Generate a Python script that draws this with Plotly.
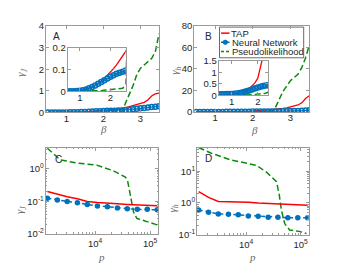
import plotly.graph_objects as go

W, H = 342, 269
def fx(px): return px / W
def fy(py): return 1 - py / H

# ---------------- data ----------------
beta = [0.5, 0.6, 0.7, 0.8, 0.9, 1.0, 1.1, 1.2, 1.3, 1.4, 1.5, 1.6, 1.7, 1.8, 1.9, 2.0,
        2.1, 2.2, 2.3, 2.4, 2.5, 2.6, 2.7, 2.8, 2.9, 3.0, 3.1, 3.2, 3.3, 3.4, 3.5]

gJ_tap = [0.000, 0.000, 0.001, 0.001, 0.002, 0.003, 0.005, 0.008, 0.013, 0.019, 0.027,
          0.036, 0.047, 0.059, 0.073, 0.088, 0.104, 0.121, 0.140, 0.160, 0.182,
          0.22, 0.27, 0.32, 0.37, 0.42, 0.47, 0.58, 0.76, 0.86, 0.90]
gJ_nn = [0.000, 0.000, 0.000, 0.001, 0.002, 0.003, 0.005, 0.009, 0.014, 0.020, 0.027,
         0.035, 0.043, 0.051, 0.059, 0.067, 0.074, 0.080, 0.085, 0.090, 0.095,
         0.11, 0.13, 0.15, 0.17, 0.19, 0.21, 0.23, 0.25, 0.27, 0.29]
gJ_pl = [0.000, 0.000, 0.000, 0.000, 0.000, 0.000, 0.000, 0.000, 0.000, 0.001, 0.001,
         0.002, 0.003, 0.005, 0.007, 0.009, 0.010, 0.011, 0.012, 0.014, 0.030,
         0.45, 0.85, 1.25, 1.75, 2.05, 2.20, 2.35, 2.50, 2.80, 3.65]

gh_tap = [0.02, 0.02, 0.03, 0.03, 0.04, 0.05, 0.06, 0.08, 0.10, 0.13, 0.18,
          0.25, 0.34, 0.44, 0.57, 0.76, 1.02, 1.36, 1.75, 2.0, 2.2,
          2.5, 2.9, 3.3, 3.9, 4.6, 5.5, 6.5, 8.5, 12.5, 15.0]
gh_nn = [0.05, 0.05, 0.05, 0.06, 0.06, 0.07, 0.08, 0.09, 0.11, 0.13, 0.16,
         0.19, 0.23, 0.27, 0.31, 0.35, 0.38, 0.41, 0.43, 0.45, 0.47,
         0.5, 0.55, 0.6, 0.7, 0.8, 0.9, 1.0, 1.15, 1.3, 1.5]
gh_pl = [0.0, 0.0, 0.0, 0.0, 0.0, 0.0, 0.0, 0.0, 0.0, 0.0, 0.005,
         0.01, 0.02, 0.03, 0.04, 0.05, 0.06, 0.08, 0.10, 0.14, 0.6,
         4.0, 12.0, 19.0, 24.0, 29.0, 32.0, 35.0, 41.0, 50.0, 62.0]

p = [1350, 2050, 3100, 4750, 7200, 11000, 16700, 25500, 38500, 58500, 89000, 135000]
gJ_tap_p = [0.20, 0.165, 0.14, 0.12, 0.10, 0.093, 0.087, 0.084, 0.081, 0.079, 0.076, 0.074]
gJ_nn_p = [0.126, 0.110, 0.100, 0.091, 0.081, 0.072, 0.069, 0.063, 0.060, 0.057, 0.057, 0.055]
gh_tap_p = [2.3, 1.5, 1.12, 1.11, 1.09, 1.05, 1.0, 0.96, 0.94, 0.92, 0.89, 0.85]
gh_nn_p = [0.60, 0.51, 0.45, 0.44, 0.42, 0.39, 0.38, 0.355, 0.355, 0.34, 0.34, 0.34]

p_pl_C = [1350, 2300, 4700, 10700, 21400, 35500, 38900, 44700, 50100, 57500, 87100, 135000]
gJ_pl_p = [4.3, 1.9, 1.5, 1.3, 0.87, 0.56, 0.44, 0.13, 0.047, 0.030, 0.024, 0.019]
p_pl_D = [1350, 2250, 5100, 15500, 24000, 36300, 40700, 44700, 51300, 63100, 95500, 129000]
gh_pl_p = [57.0, 38.0, 23.4, 15.5, 9.3, 4.7, 1.8, 0.58, 0.22, 0.14, 0.126, 0.107]

series_names = ["TAP", "Neural Network", "Pseudolikelihood"]

# ---------------- style ----------------
RED = "#ff0000"
BLUE = "#0072bd"
GREEN = "#0a8a0a"
AXC = "#9a9a9a"
TXT = "#262626"
FONT = "Liberation Sans"
DASH = "6px,3px"

fig = go.Figure()

def add_beta_panel(xa, ya, tap, nn, pl):
    fig.add_trace(go.Scatter(x=beta, y=pl, mode="lines", xaxis=xa, yaxis=ya,
                             line=dict(color=GREEN, width=1.5, dash=DASH), showlegend=False))
    fig.add_trace(go.Scatter(x=beta, y=tap, mode="lines", xaxis=xa, yaxis=ya,
                             line=dict(color=RED, width=1.3), showlegend=False))
    fig.add_trace(go.Scatter(x=beta, y=nn, mode="lines+markers", xaxis=xa, yaxis=ya,
                             line=dict(color=BLUE, width=1.2),
                             marker=dict(symbol="circle-open", size=5, color=BLUE,
                                         line=dict(width=1.5, color=BLUE)),
                             showlegend=False))

add_beta_panel("x", "y", gJ_tap, gJ_nn, gJ_pl)
add_beta_panel("x2", "y2", gJ_tap, gJ_nn, gJ_pl)
add_beta_panel("x3", "y3", gh_tap, gh_nn, gh_pl)
add_beta_panel("x4", "y4", gh_tap, gh_nn, gh_pl)

def add_p_panel(xa, ya, tap, nn, ppl, pl):
    fig.add_trace(go.Scatter(x=ppl, y=pl, mode="lines", xaxis=xa, yaxis=ya,
                             line=dict(color=GREEN, width=1.5, dash=DASH), showlegend=False))
    fig.add_trace(go.Scatter(x=p, y=tap, mode="lines", xaxis=xa, yaxis=ya,
                             line=dict(color=RED, width=1.5), showlegend=False))
    fig.add_trace(go.Scatter(x=p, y=nn, mode="lines+markers", xaxis=xa, yaxis=ya,
                             line=dict(color=BLUE, width=1.5, dash="4px,3px"),
                             marker=dict(symbol="circle", size=5.5, color=BLUE),
                             showlegend=False))

add_p_panel("x5", "y5", gJ_tap_p, gJ_nn_p, p_pl_C, gJ_pl_p)
add_p_panel("x6", "y6", gh_tap_p, gh_nn_p, p_pl_D, gh_pl_p)

def ax(domain, anchor, rng, tickvals, ticktext=None, typ="linear", minor=None, size=9.5,
       standoff=0):
    d = dict(domain=domain, anchor=anchor, range=rng, type=typ,
             showline=True, linecolor=AXC, linewidth=1, mirror="allticks",
             ticks="inside", ticklen=3, tickcolor=AXC, tickwidth=1,
             showgrid=False, zeroline=False, tickmode="array", tickvals=tickvals,
             tickfont=dict(family=FONT, size=size, color=TXT),
             ticklabelstandoff=standoff)
    if ticktext is not None:
        d["ticktext"] = ticktext
    if minor is not None:
        d["minor"] = dict(tickmode="array", tickvals=minor, ticks="inside", ticklen=1.5,
                          tickcolor=AXC, showgrid=False)
    return d

minor_p = [2000, 3000, 4000, 5000, 6000, 7000, 8000, 9000,
           20000, 30000, 40000, 50000, 60000, 70000, 80000, 90000]
minor_C = [0.02, 0.03, 0.04, 0.05, 0.06, 0.07, 0.08, 0.09,
           0.2, 0.3, 0.4, 0.5, 0.6, 0.7, 0.8, 0.9, 2, 3, 4]
minor_D = [0.2, 0.3, 0.4, 0.5, 0.6, 0.7, 0.8, 0.9,
           2, 3, 4, 5, 6, 7, 8, 9, 20, 30, 40, 50]

dA_x = [fx(46), fx(159)]; dA_y = [fy(111), fy(21)]
dAi_x = [fx(67.7), fx(125.7)]; dAi_y = [fy(89), fy(43.3)]
dB_x = [fx(194.3), fx(309.3)]; dB_y = [fy(110.5), fy(20.5)]
dBi_x = [fx(218.7), fx(268.3)]; dBi_y = [fy(93.3), fy(57.3)]
dC_x = [fx(45.7), fx(158.3)]; dC_y = [fy(237.7), fy(147.7)]
dD_x = [fx(197), fx(308.7)]; dD_y = [fy(238.3), fy(147.7)]

XS = -3
XSL = 1
YS = -1
fig.update_layout(
    xaxis=ax(dA_x, "y", [0.45, 3.5], [1, 2, 3], standoff=XS),
    yaxis=ax(dA_y, "x", [0, 4], [0, 1, 2, 3, 4], standoff=YS),
    xaxis2=ax(dAi_x, "y2", [0.6, 2.5], [1, 2], standoff=XS),
    yaxis2=ax(dAi_y, "x2", [0, 0.2], [0, 0.1, 0.2], ["0", "0.1", "0.2"], standoff=YS),
    xaxis3=ax(dB_x, "y3", [0.45, 3.5], [1, 2, 3], standoff=XS),
    yaxis3=ax(dB_y, "x3", [0, 80], [0, 20, 40, 60, 80], standoff=YS),
    xaxis4=ax(dBi_x, "y4", [0.5, 2.4], [1, 2], standoff=XS),
    yaxis4=ax(dBi_y, "x4", [0, 1.5], [0, 0.5, 1, 1.5], ["0", "0.5", "1", "1.5"], standoff=YS),
    xaxis5=ax(dC_x, "y5", [3.1, 5.15], [1e4, 1e5], ["10<sup>4</sup>", "10<sup>5</sup>"], "log",
              minor_p, standoff=XSL),
    yaxis5=ax(dC_y, "x5", [-2, 0.65], [0.01, 0.1, 1],
              ["10<sup>-2</sup>", "10<sup>-1</sup>", "10<sup>0</sup>"], "log", minor_C, standoff=YS),
    xaxis6=ax(dD_x, "y6", [3.1, 5.15], [1e4, 1e5], ["10<sup>4</sup>", "10<sup>5</sup>"], "log",
              minor_p, standoff=XSL),
    yaxis6=ax(dD_y, "x6", [-1, 1.75], [0.1, 1, 10],
              ["10<sup>-1</sup>", "10<sup>0</sup>", "10<sup>1</sup>"], "log", minor_D, standoff=YS),
    width=W, height=H, margin=dict(l=0, r=0, t=0, b=0),
    paper_bgcolor="white", plot_bgcolor="white", showlegend=False,
)

ann = []
def text(x, y, s, size=10, color=TXT, family=FONT, angle=0, xanchor="center"):
    ann.append(dict(x=fx(x), y=fy(y), xref="paper", yref="paper", text=s, showarrow=False,
                    font=dict(size=size, color=color, family=family), textangle=angle,
                    xanchor=xanchor, yanchor="middle", borderpad=0))

# panel letters
text(56, 31.5, "A"); text(208.7, 31.5, "B"); text(58.3, 160, "C"); text(208.7, 158.5, "D")
# axis titles
TC = "#6a6a6a"; SER = "Liberation Serif"
text(21.5, 70, "<i>γ</i><sub><i>J</i></sub>", 11, TC, SER, -90)
text(175.5, 68, "<i>γ</i><sub><i>h</i></sub>", 11, TC, SER, -90)
text(20.7, 213, "<i>γ</i><sub><i>J</i></sub>", 11, TC, SER, -90)
text(172.7, 211.5, "<i>γ</i><sub><i>h</i></sub>", 11, TC, SER, -90)
text(103.3, 128.5, "<i>β</i>", 11, TC, SER)
text(254.3, 129, "<i>β</i>", 11, TC, SER)
text(101.7, 261.5, "<i>p</i>", 11, TC, SER)
text(252.7, 261.5, "<i>p</i>", 11, TC, SER)

# legend (in panel B)
ly = [28.3, 37.8, 47.5]
lx0, lx1, ltx = 221, 229.5, 230.5
for yy, name in zip(ly, series_names):
    text(ltx, yy, name, 9.5, TXT, FONT, 0, "left")
fig.update_layout(annotations=ann)

shapes = [
    dict(type="rect", xref="paper", yref="paper", x0=fx(219.5), x1=fx(303.7), y0=fy(54), y1=fy(22),
         line=dict(color="#444444", width=0.8), fillcolor="white", layer="below"),
    dict(type="line", xref="paper", yref="paper", x0=fx(lx0), x1=fx(lx1), y0=fy(ly[0]), y1=fy(ly[0]),
         line=dict(color=RED, width=1.5)),
    dict(type="line", xref="paper", yref="paper", x0=fx(lx0), x1=fx(lx1), y0=fy(ly[1]), y1=fy(ly[1]),
         line=dict(color=BLUE, width=1.5)),
    dict(type="circle", xref="paper", yref="paper", x0=fx(223.1), x1=fx(227.5),
         y0=fy(ly[1] + 2.2), y1=fy(ly[1] - 2.2), line=dict(color=BLUE, width=1), fillcolor=BLUE),
    dict(type="line", xref="paper", yref="paper", x0=fx(lx0), x1=fx(lx1), y0=fy(ly[2]), y1=fy(ly[2]),
         line=dict(color=GREEN, width=1.5, dash="3px,2px")),
]
fig.update_layout(shapes=shapes)

fig.write_html("out.html", config={"displayModeBar": False},
               post_script="document.body.style.margin='0';document.body.style.overflow='hidden';")
